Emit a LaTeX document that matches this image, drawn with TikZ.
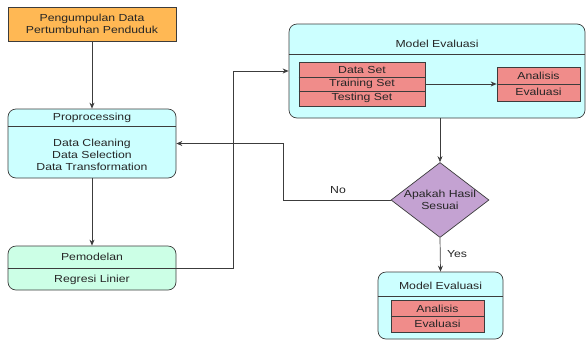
\documentclass[tikz,border=0pt]{standalone}
\usepackage{fontspec}
\setmainfont{Liberation Sans}[FakeStretch=1.2]
\usetikzlibrary{arrows.meta,calc,shapes.geometric}
\definecolor{oranje}{RGB}{255,184,84}
\definecolor{cyanbox}{RGB}{204,255,255}
\definecolor{mintbox}{RGB}{204,255,230}
\definecolor{salmon}{RGB}{240,140,138}
\definecolor{lilac}{RGB}{196,162,210}
\definecolor{edge}{RGB}{60,60,60}

\begin{document}
\begin{tikzpicture}[x=1pt,y=-1pt,
		every node/.style={font=\fontsize{10.2}{12}\selectfont, text=black!85},
		box/.style={draw=edge, line width=0.7pt, inner sep=0pt},
		rbox/.style={box, rounded corners=8pt},
		txt/.style={align=center, inner sep=0pt},
		arr/.style={-{Stealth[length=6pt,width=5pt]}, line width=0.7pt, draw=edge}]
		\useasboundingbox (0,0) rectangle (588,341);
		% boxes
		\node[box, fill=oranje, minimum width=168, minimum height=34] (src) at (92,24) {};
		\node[rbox, fill=cyanbox, minimum width=168, minimum height=69] (pre) at (92,143.5) {};
		\node[rbox, fill=mintbox, minimum width=168, minimum height=44] (model) at (92,268) {};
		\node[rbox, fill=cyanbox, minimum width=296, minimum height=94] (eval) at (437,71) {};
		\node[box, fill=salmon, minimum width=126, minimum height=44] (sets) at (362,84) {};
		\node[box, fill=salmon, minimum width=83, minimum height=34] (ana1) at (538.5,84) {};
		\node[box, diamond, fill=lilac, minimum width=98, minimum height=75] (dec) at (440,200) {};
		\node[rbox, fill=cyanbox, minimum width=125, minimum height=67] (fin) at (440.5,305.5) {};
		\node[box, fill=salmon, minimum width=93, minimum height=32] (ana2) at (437.5,316) {};
		% dividers
		\draw[edge, line width=0.7pt] (pre.west |- 0,126) -- (pre.east |- 0,126);
		\draw[edge, line width=0.7pt] (model.west) -- (model.east);
		\draw[edge, line width=0.7pt] (eval.west |- 0,54) -- (eval.east |- 0,54);
		\foreach \y in {77,91}{
			\draw[edge, line width=0.7pt] (sets.west |- 0,\y) -- (sets.east |- 0,\y);
		}
		\draw[edge, line width=0.7pt] (ana1.west) -- (ana1.east);
		\draw[edge, line width=0.7pt] (fin.west |- 0,296) -- (fin.east |- 0,296);
		\draw[edge, line width=0.7pt] (ana2.west) -- (ana2.east);
		% texts
		\node[txt] (srcT) at (src) {Pengumpulan Data\\Pertumbuhan Penduduk};
		\node[txt] (preH) at (92,118) {Proprocessing};
		\node[txt] (preT) at (92,155) {Data Cleaning\\Data Selection\\Data Transformation};
		\node[txt] (modelH) at (92,257) {Pemodelan};
		\node[txt] (modelT) at (92,279.5) {Regresi Linier};
		\node[txt] (evalH) at (437,44) {Model Evaluasi};
		\node[txt] (sets1) at (362,70) {Data Set};
		\node[txt] (sets2) at (362,84) {Training Set};
		\node[txt] (sets3) at (362,98) {Testing Set};
		\node[txt] (ana1a) at (538.5,76) {Analisis};
		\node[txt] (ana1b) at (538.5,92) {Evaluasi};
		\node[txt] (decT) at (dec) {Apakah Hasil\\Sesuai};
		\node[txt] (finH) at (440.5,286) {Model Evaluasi};
		\node[txt] (ana2a) at (437.5,308.5) {Analisis};
		\node[txt] (ana2b) at (437.5,324) {Evaluasi};
		% connectors
		\coordinate (up) at (233,0);
		\coordinate (back) at (283,0);
		\draw[arr] (src.south) -- (pre.north);
		\draw[arr] (pre.south) -- (model.north);
		\draw[arr] (model.east) -- (model.east -| up) |- (eval.west);
		\draw[arr] (sets.east) -- (ana1.west);
		\draw[arr] (eval.south -| dec.north) -- (dec.north);
		\draw[arr] (dec.west) -- (dec.west -| back) |- (pre.east);
		\draw[arr] (dec.south) -- (fin.north);
		\node[txt] (no) at (338,190) {No};
		\node[txt] (yes) at (457,254) {Yes};
	\end{tikzpicture}
\end{document}
